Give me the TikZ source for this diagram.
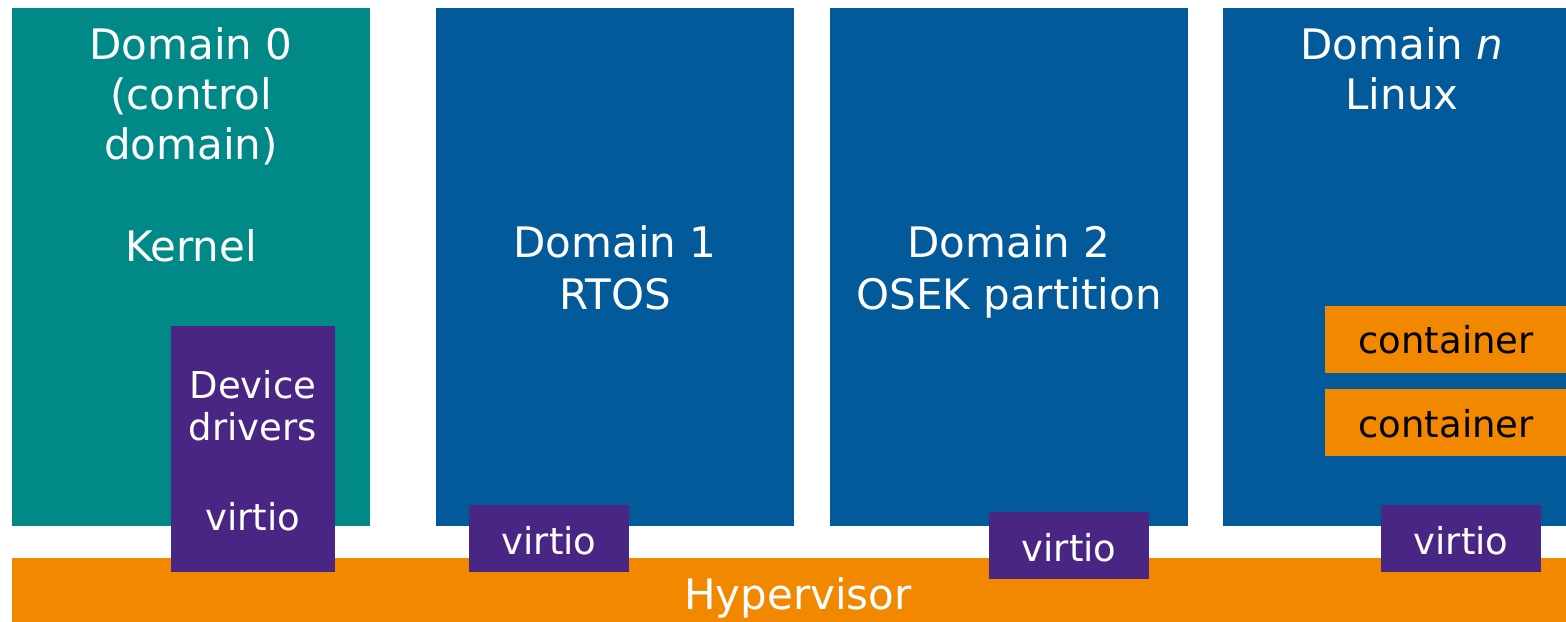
\documentclass[tikz,border=0pt]{standalone}
\usepackage{fontspec}
\setmainfont{DejaVu Sans}
\definecolor{domteal}{RGB}{0,137,135}
\definecolor{domblue}{RGB}{2,90,154}
\definecolor{vpurple}{RGB}{74,38,132}
\definecolor{hvorange}{RGB}{241,136,0}
\tikzset{
  box/.style={inner sep=0pt, outer sep=0pt, anchor=north west, draw=none},
  bigtext/.style={font=\fontsize{21}{25}\selectfont, text=white, align=center, anchor=base, inner sep=0pt},
  smalltext/.style={font=\fontsize{18.5}{21}\selectfont, text=white, align=center, anchor=base, inner sep=0pt},
}
\begin{document}
\begin{tikzpicture}[x=0.5pt,y=-0.5pt]
\useasboundingbox (0,0) rectangle (1566,621);
\clip (0,0) rectangle (1566,621);
% domains
\node[box, fill=domteal, minimum width=179pt, minimum height=259pt] (d0) at (12,8) {};
\node[box, fill=domblue, minimum width=179pt, minimum height=259pt] (d1) at (436,8) {};
\node[box, fill=domblue, minimum width=179pt, minimum height=259pt] (d2) at (830,8) {};
\node[box, fill=domblue, minimum width=179pt, minimum height=259pt] (dn) at (1223,8) {};
% hypervisor
\node[box, fill=hvorange, minimum width=786pt, minimum height=32pt] (hv) at (12,558) {};
% containers
\node[box, fill=hvorange, minimum width=120.5pt, minimum height=33.5pt] (c1) at (1325,306) {};
\node[box, fill=hvorange, minimum width=120.5pt, minimum height=33.5pt] (c2) at (1325,389) {};
% purple boxes
\node[box, fill=vpurple, minimum width=82pt, minimum height=123pt] (dd) at (171,326) {};
\node[box, fill=vpurple, minimum width=80pt, minimum height=33.5pt] (v1) at (469,505) {};
\node[box, fill=vpurple, minimum width=80pt, minimum height=33.5pt] (v2) at (989,512) {};
\node[box, fill=vpurple, minimum width=80pt, minimum height=33.5pt] (vn) at (1381,505) {};
% texts (anchor = baseline of last line)
\node[bigtext] (t0) at (191,261) {Domain 0\\(control\\domain)\\[26pt]Kernel};
\node[bigtext, font=\fontsize{21}{26}\selectfont] (t1) at (615,309) {Domain 1\\RTOS};
\node[bigtext, font=\fontsize{21}{26}\selectfont] (t2) at (1009,309) {Domain 2\\OSEK partition};
\node[bigtext] (tn) at (1402,109) {Domain \textit{n}\\Linux};
\node[smalltext] (tdd) at (253,440) {Device\\drivers};
\node[smalltext] (tdv) at (253,530) {virtio};
\node[smalltext] (tv1) at (549,554) {virtio};
\node[smalltext] (tv2) at (1069,561) {virtio};
\node[smalltext] (tvn) at (1461,554) {virtio};
\node[smalltext, text=black] (tc1) at (1446,353) {container};
\node[smalltext, text=black] (tc2) at (1446,437) {container};
\node[bigtext] (thv) at (798,609) {Hypervisor};
\end{tikzpicture}
\end{document}
